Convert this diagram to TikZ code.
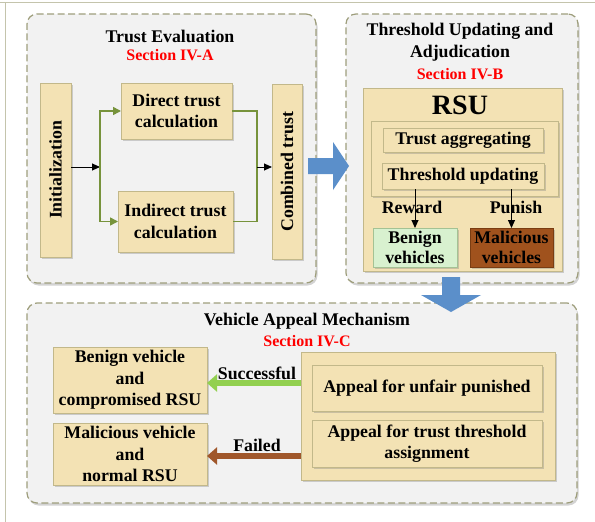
\documentclass[tikz,border=0pt]{standalone}
\usepackage{fontspec}
\setmainfont{Liberation Serif}
\usetikzlibrary{arrows.meta,shadows}

\definecolor{panelfill}{HTML}{F2F2F2}
\definecolor{paneldash}{HTML}{9E9E7C}
\definecolor{boxfill}{HTML}{F3E2B4}
\definecolor{boxline}{HTML}{C2B88A}
\definecolor{linkgreen}{HTML}{77933C}
\definecolor{benignfill}{HTML}{D8F1CF}
\definecolor{benignline}{HTML}{A4C294}
\definecolor{malfill}{HTML}{A0521D}
\definecolor{malline}{HTML}{7A3D12}
\definecolor{bluearrow}{HTML}{5B8FCA}
\definecolor{okgreen}{HTML}{92D050}
\definecolor{failbrown}{HTML}{A0572B}
\definecolor{framecol}{HTML}{C4C4AC}

\begin{document}
\begin{tikzpicture}[x=1pt,y=-1pt,
  font=\bfseries\fontsize{17.8}{21.5}\selectfont,
  panel/.style={draw=paneldash,dash pattern=on 7pt off 3.5pt,line width=1.2pt,fill=panelfill,rounded corners=10pt,outer sep=0pt,
    drop shadow={shadow xshift=1.5pt,shadow yshift=-2.5pt,opacity=0.35}},
  box/.style={draw=boxline,fill=boxfill,line width=0.8pt,align=center,inner sep=0pt,outer sep=0pt,
    drop shadow={shadow xshift=1.8pt,shadow yshift=-1.8pt,opacity=0.35}},
  sect/.style={text=red,font=\bfseries\fontsize{16}{18}\selectfont},
  twoline/.style={font=\bfseries\fontsize{17.8}{19.5}\selectfont},
  link/.style={linkgreen,line width=1.5pt,-{Triangle[length=8pt,width=8pt]}},
  blk/.style={black,line width=1pt,-{Triangle[length=8pt,width=7pt]}},
  fat/.style={line width=6pt,-{Triangle[length=10pt,width=17pt]}}]
\useasboundingbox (0,0) rectangle (595,522);
\draw[framecol,line width=1pt] (0,2.5) -- (595,2.5) (5.5,2.5) -- (5.5,522);

% trust evaluation
\node[panel,minimum width=289pt,minimum height=269pt] (pa) at (171.5,148.5) {};
\node (ta) at (170,36) {Trust Evaluation};
\node[sect] (sa) at (170,55) {Section IV-A};
\node[box,minimum width=31pt,minimum height=174pt] (init) at (55.5,170) {\rotatebox{90}{Initialization}};
\node[box,minimum width=111pt,minimum height=56pt] (direct) at (176.5,111) {Direct trust\\calculation};
\node[box,minimum width=115pt,minimum height=61pt] (indirect) at (175.5,221.5) {Indirect trust\\calculation};
\node[box,minimum width=30pt,minimum height=175pt] (comb) at (287,171.5) {\rotatebox{90}{Combined trust}};
\coordinate (split) at (100,167);
\coordinate (join) at (257,167);
\draw[blk] (init.east |- split) -- (split);
\draw[link] (split) |- (direct.west);
\draw[link] (split) |- (indirect.west);
\draw[linkgreen,line width=1.5pt] (direct.east) -| (join) |- (indirect.east);
\draw[blk] (join) -- (comb.west |- join);

% threshold updating and adjudication
\node[panel,minimum width=232pt,minimum height=269pt] (pb) at (462,148.5) {};
\node[align=center] (tb) at (460,42) {Threshold Updating and\\Adjudication};
\node[sect] (sb) at (460,74) {Section IV-B};
\node[box,minimum width=199pt,minimum height=183pt] (rsu) at (462.5,179.5) {};
\node[font=\bfseries\fontsize{28}{32}\selectfont] (rsul) at (460,105) {RSU};
\node[box,minimum width=187pt,minimum height=75pt] (core) at (464.5,158.5) {};
\node[box,minimum width=160pt,minimum height=24pt] (agg) at (463,140) {Trust aggregating};
\node[box,minimum width=162pt,minimum height=26pt] (upd) at (463,176) {Threshold updating};
\node[box,twoline,fill=benignfill,draw=benignline,minimum width=84pt,minimum height=39pt] (ben) at (415,247.5) {Benign\\vehicles};
\node[box,twoline,fill=malfill,draw=malline,minimum width=83pt,minimum height=39pt] (mal) at (511.5,247.5) {Malicious\\vehicles};
\node (rew) at (412,207) {Reward};
\node (pun) at (516,207) {Punish};
\draw[blk] (ben.north |- upd.south) -- (ben.north);
\draw[blk] (mal.north |- upd.south) -- (mal.north);

% vehicle appeal
\node[panel,minimum width=550pt,minimum height=200pt] (pc) at (302,403) {};
\node (tc) at (307,321) {Vehicle Appeal Mechanism};
\node[sect] (sc) at (307,341) {Section IV-C};
\node[box,minimum width=154pt,minimum height=66pt] (good) at (130,380) {Benign vehicle\\and\\compromised RSU};
\node[box,minimum width=154pt,minimum height=62pt] (bad) at (130,454) {Malicious vehicle\\and\\normal RSU};
\node (ok) at (257,373) {Successful};
\node (fail) at (257,445) {Failed};
\draw[fat,okgreen] ([yshift=-3pt]good.east -| 301,0) -- ([yshift=-3pt]good.east);
\draw[fat,failbrown] ([yshift=-2pt]bad.east -| 301,0) -- ([yshift=-2pt]bad.east);
\node[box,minimum width=254pt,minimum height=128pt] (appeal) at (428,416) {};
\node[box,minimum width=230pt,minimum height=46pt] (unfair) at (427,388) {Appeal for unfair punished};
\node[box,minimum width=230pt,minimum height=47pt] (thrs) at (427,443.5) {Appeal for trust threshold\\assignment};

% big blue arrows between the parts
\fill[bluearrow] (308,158) -- (333,158) -- (333,142) -- (349,166) -- (333,190) -- (333,174) -- (308,174) -- cycle;
\fill[bluearrow] (442,277) -- (460,277) -- (460,295) -- (481,295) -- (451,312) -- (421,295) -- (442,295) -- cycle;
\end{tikzpicture}
\end{document}
